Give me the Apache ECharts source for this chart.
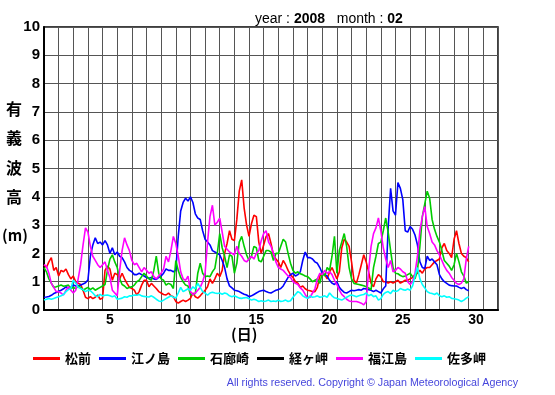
<!DOCTYPE html>
<html lang="ja">
<head>
    <meta charset="UTF-8">
    <title>有義波高 2008-02</title>
    <script src="https://cdn.jsdelivr.net/npm/echarts@6/dist/echarts.min.js"></script>
    <style>
        body{ margin:0; background-color:#ffffff }
        #main{ width:555px; height:395px }
    </style>
</head>
<body>
<div id="main"></div>
<script type="text/javascript">
    // 4時間ごとの値 (1日6点), 2/1 0時 から 2/29 24時 まで
    var days = [];
    for (var d = 1; d <= 31; d++) { days.push(String(d)); }
    var stations = ['松前', '江ノ島', '石廊崎', '経ヶ岬', '福江島', '佐多岬'];
    var colors = ['#ff0000', '#0000ff', '#00cc00', '#000000', '#ff00ff', '#00ffff'];

    var matsumae = [
        1.6, 1.5, 1.7, 1.85, 1.4, 1.5,
        1.2, 1.4, 1.35, 1.45, 1.25, 1.1,
        1.2, 1.0, 0.95, 0.9, 0.7, 0.45,
        0.4, 0.47, 0.4, 0.45, 0.53, 0.38,
        0.42, 1.4, 1.55, 1.45, 1.05, 1.3,
        1.25, 1.1, 1.3, 1.1, 0.94, 0.8,
        0.76, 0.7, 0.53, 0.65, 0.88, 1.05,
        1.05, 0.82, 0.94, 0.85, 0.76, 0.65,
        0.6, 0.55, 0.53, 0.6, 0.5, 0.47,
        0.3, 0.24, 0.3, 0.35, 0.3, 0.35,
        0.41, 0.6, 0.47, 0.42, 0.5, 0.6,
        0.7, 0.82, 1.1, 0.94, 1.1, 1.3,
        1.18, 1.4, 2.0, 2.35, 2.8, 2.5,
        2.45, 3.2, 4.2, 4.6, 3.6, 3.0,
        2.6, 3.05, 3.35, 3.3, 2.4, 2.0,
        2.3, 2.6, 2.7, 2.35, 1.95, 1.8,
        1.7, 1.5, 1.75, 1.6, 1.4, 1.25,
        1.15, 1.0, 0.95, 0.8, 0.85, 0.75,
        0.7, 0.68, 0.65, 0.65, 0.8, 1.2,
        1.3, 1.25, 1.1, 1.35, 1.5, 1.3,
        1.1, 1.35, 2.2, 2.5, 2.4, 2.25,
        1.7, 1.05, 0.95, 1.25, 1.6, 1.95,
        1.7, 1.35, 0.94, 0.82, 1.1, 1.25,
        1.18, 1.0, 1.0, 0.95, 1.0, 0.95,
        1.0, 1.05, 0.95, 1.0, 1.05, 1.05,
        1.1, 1.15, 1.25, 1.3, 1.4, 1.3,
        1.45, 1.5, 1.5, 1.6, 1.7, 1.75,
        1.8, 2.2, 2.35, 2.1, 2.0, 1.85,
        2.5, 2.8, 2.35, 2.0, 1.9, 1.85,
        1.7
    ];
    var enoshima = [
        0.45, 0.46, 0.48, 0.52, 0.58, 0.62,
        0.66, 0.7, 0.75, 0.82, 0.78, 0.8,
        0.88, 0.85, 0.86, 0.88, 0.92, 0.96,
        1.06, 1.9, 2.3, 2.55, 2.35, 2.4,
        2.3, 2.45, 2.3, 2.0, 2.2, 1.95,
        2.05, 1.9, 1.85, 1.7, 1.5, 1.4,
        1.35, 1.25, 1.25, 1.3, 1.25, 1.2,
        1.15, 1.12, 1.15, 1.1, 1.08, 1.15,
        1.2, 1.3, 1.45, 1.4, 1.4, 1.35,
        1.4, 2.6, 3.5, 3.8, 3.95, 3.85,
        4.0, 3.8, 3.4, 3.25, 3.2, 2.8,
        2.5, 2.4, 2.3, 2.1, 2.05, 2.0,
        1.95, 1.75, 1.5, 1.1, 0.85, 0.78,
        0.7, 0.68, 0.65, 0.6, 0.56, 0.53,
        0.47, 0.5, 0.55, 0.6, 0.65, 0.68,
        0.7, 0.65, 0.62, 0.6, 0.65, 0.7,
        0.72, 0.76, 0.85, 1.0, 1.15, 1.25,
        1.3, 1.2, 1.25, 1.35, 1.75, 2.05,
        1.85, 1.85, 1.8, 1.7, 1.65, 1.5,
        1.3, 1.25, 1.2, 1.05, 0.95, 0.9,
        1.0, 0.8, 0.7, 0.62, 0.6, 0.65,
        0.7, 0.68, 0.7, 0.72, 0.7, 0.76,
        0.74, 0.72, 0.7, 0.65, 0.7, 0.65,
        0.6, 0.75, 0.85, 2.9, 4.3, 3.5,
        3.35, 4.5, 4.3, 3.9, 2.8, 2.75,
        2.95, 2.85, 2.65, 2.3, 1.7, 1.5,
        1.47, 1.9, 1.75, 1.8, 1.7, 1.6,
        1.25, 1.1, 1.0, 0.94, 0.88, 0.86,
        0.85, 0.85, 0.8, 0.76, 0.8, 0.72,
        0.68
    ];
    var irozaki = [
        1.5, 1.35, 1.1, 0.95, 0.8, 0.82,
        0.85, 0.88, 0.84, 0.86, 0.88, 0.75,
        0.8, 0.75, 0.85, 0.8, 0.7, 0.75,
        0.8, 0.72, 0.78, 0.7, 0.75, 0.8,
        0.85, 0.9, 1.4, 1.8, 1.95, 1.7,
        1.5, 1.1, 0.9, 0.85, 0.76, 0.8,
        0.82, 0.88, 1.0, 1.05, 1.18, 1.3,
        1.2, 1.1, 1.05, 1.4, 1.9, 1.3,
        1.1, 1.05, 0.88, 0.94, 0.9, 0.76,
        1.75, 1.4, 1.15, 1.0, 0.88, 0.85,
        0.55, 0.55, 0.58, 1.3, 1.65, 1.3,
        1.18, 1.2, 1.18, 1.35, 1.47, 2.0,
        2.7, 2.2, 1.9, 1.5, 1.95, 1.9,
        1.3, 1.65, 2.4, 2.6, 2.25, 1.95,
        1.75, 1.9, 2.25, 2.2, 1.75, 1.7,
        1.9, 2.1, 2.1, 2.05, 1.75, 2.0,
        2.0, 2.25, 2.5, 2.4, 2.0, 1.65,
        1.4, 1.3, 1.35, 1.28, 1.25, 1.2,
        1.18, 1.1, 1.0, 1.05, 1.1, 0.94,
        1.3, 1.2, 1.5, 1.4, 1.9, 2.6,
        1.3, 2.1, 2.4, 2.7, 2.25, 1.5,
        1.1, 0.94, 0.92, 0.9, 0.88, 0.86,
        0.82, 0.78, 0.72, 1.5, 1.9, 2.35,
        2.4, 2.8, 3.25, 2.75, 2.1, 1.5,
        1.3, 1.28, 1.22, 1.18, 1.2, 1.25,
        1.3, 1.18, 1.1, 1.4, 2.25, 3.3,
        3.75, 4.2, 3.95, 3.2, 2.85, 2.6,
        2.4, 2.1, 1.75, 1.65, 1.55, 1.4,
        1.6, 2.0, 1.7, 1.35, 1.2, 0.95,
        1.0
    ];
    var kyogamisaki = [];
    var fukuejima = [
        1.6, 1.55, 1.3, 0.94, 0.8, 0.65,
        0.65, 0.6, 0.53, 0.7, 0.82, 0.7,
        0.6, 0.7, 1.1, 1.6, 2.3, 2.9,
        2.75, 2.25, 1.9, 1.75, 1.6, 1.5,
        1.6, 1.7, 1.4, 1.15, 0.7, 0.6,
        0.5, 1.4, 2.1, 2.55, 2.3, 2.1,
        1.75, 1.6, 1.65, 1.5, 1.35, 1.5,
        1.4, 1.3, 1.35, 1.18, 1.1, 1.2,
        1.3, 1.45, 1.9, 1.7, 2.1, 2.6,
        2.35, 1.9, 1.35, 1.1, 1.05, 1.2,
        0.65, 0.55, 0.6, 0.7, 0.8, 1.0,
        1.3, 2.4, 3.3, 3.7, 3.0, 3.1,
        3.25, 2.75, 2.25, 2.15, 2.05, 2.0,
        1.95, 2.25, 2.0, 1.9, 1.75, 1.7,
        1.8, 1.9, 1.8, 2.0, 2.1, 2.45,
        2.7, 2.8, 2.4, 2.25, 2.0, 1.7,
        1.5, 1.45, 1.4, 1.3, 1.2, 1.15,
        1.0, 0.94, 0.9, 0.78, 0.7, 0.55,
        0.42, 0.45, 0.6, 0.75, 1.1, 1.3,
        1.25, 1.4, 1.3, 1.35, 1.25, 1.05,
        0.9, 0.7, 0.55, 0.47, 0.38, 0.32,
        0.3, 0.3, 0.3, 0.27, 0.24, 0.18,
        0.3, 1.4, 2.25, 2.7, 2.9, 3.25,
        2.8, 2.2, 1.8, 1.5, 1.75, 1.35,
        1.4, 1.5, 1.45, 1.35, 1.3, 1.0,
        0.9, 1.0, 1.3, 1.9, 2.8, 3.3,
        3.65, 2.95, 2.7, 2.4, 2.3, 2.1,
        1.95, 1.75, 1.55, 1.4, 1.3, 1.15,
        1.05, 0.94, 0.9, 0.95, 1.1, 1.8,
        2.25
    ];
    var satamisaki = [
        0.35, 0.38, 0.41, 0.38, 0.41, 0.44,
        0.47, 0.5, 0.55, 0.65, 0.72, 0.76,
        1.05, 0.95, 0.8, 0.76, 0.72, 0.65,
        0.7, 0.68, 0.6, 0.5, 0.47, 0.55,
        0.5, 0.52, 0.53, 0.5, 0.47, 0.5,
        0.38, 0.4, 0.42, 0.47, 0.45, 0.5,
        0.5, 0.53, 0.52, 0.55, 0.5, 0.48,
        0.47, 0.46, 0.5, 0.45, 0.38, 0.32,
        0.3, 0.35, 0.4, 0.45, 0.5, 0.45,
        0.42, 0.6, 0.8, 0.65, 0.7, 0.75,
        0.7, 0.82, 0.75, 0.94, 0.8, 0.65,
        0.6, 0.52, 0.6, 0.63, 0.6, 0.58,
        0.6, 0.56, 0.6, 0.57, 0.5, 0.47,
        0.5, 0.46, 0.42, 0.41, 0.43, 0.44,
        0.4, 0.35, 0.38, 0.35, 0.3, 0.33,
        0.3, 0.32, 0.35, 0.3, 0.32, 0.3,
        0.35, 0.3, 0.32, 0.35, 0.3, 0.33,
        0.45, 0.55, 0.65, 0.6, 0.5, 0.45,
        0.41, 0.5, 0.45, 0.47, 0.5, 0.45,
        0.47, 0.5, 0.45, 0.6, 0.5, 0.43,
        0.41, 0.38, 0.35, 0.4, 0.45, 0.5,
        0.53, 0.5, 0.47, 0.5, 0.53, 0.55,
        0.6, 0.5, 0.55, 0.47, 0.5, 0.35,
        0.4, 0.55, 0.62, 0.65, 0.58, 0.7,
        0.65, 0.68, 0.76, 0.72, 0.7, 0.74,
        0.7, 0.85, 1.2, 1.5, 1.1, 0.9,
        0.78, 0.65, 0.6, 0.58, 0.55, 0.6,
        0.5, 0.47, 0.5, 0.45, 0.47, 0.41,
        0.4, 0.38, 0.35, 0.3, 0.35, 0.42,
        0.47
    ];
    var yTicks = [0, 1, 2, 3, 4, 5, 6, 7, 8, 9, 10];

    var waves = [matsumae, enoshima, irozaki, kyogamisaki, fukuejima, satamisaki];

    function toPoints(arr) {
        var pts = [];
        for (var i = 0; i < arr.length; i++) {
            pts.push([i / 6, arr[i]]);
        }
        return pts;
    }

    var myChart = echarts.init(document.getElementById('main'));

    var series = [];
    for (var s = 0; s < stations.length; s++) {
        series.push({
            name: stations[s],
            type: 'line',
            xAxisIndex: 1,
            showSymbol: false,
            symbol: 'none',
            lineStyle: { width: 1.6, color: colors[s] },
            itemStyle: { color: colors[s] },
            data: toPoints(waves[s])
        });
    }

    var baseFont = 'Liberation Sans';
    var jpFont = 'Noto Sans CJK JP';

    var option = {
        backgroundColor: '#ffffff',
        animation: false,
        title: {
            left: 250,
            top: 7,
            text: '{n|year : }{b|2008}{n|   month : }{b|02}',
            textStyle: {
                fontWeight: 'normal',
                rich: {
                    n: { fontFamily: baseFont, fontSize: 14, fontWeight: 'normal', color: '#000' },
                    b: { fontFamily: baseFont, fontSize: 14, fontWeight: 'bold', color: '#000' }
                }
            }
        },
        legend: {
            left: 28,
            top: 347,
            icon: 'rect',
            itemWidth: 27,
            itemHeight: 3,
            itemGap: 8,
            data: stations,
            textStyle: {
                fontFamily: jpFont,
                fontWeight: 'bold',
                fontSize: 13,
                color: '#000',
                width: 42
            }
        },
        grid: {
            left: 44,
            right: 57,
            top: 27,
            bottom: 85,
            show: true,
            borderColor: '#000',
            borderWidth: 1.5,
            backgroundColor: '#ffffff'
        },
        xAxis: [
            {
                type: 'category',
                data: days,
                boundaryGap: true,
                axisLine: { show: true, lineStyle: { color: '#000', width: 2 } },
                axisTick: { show: false },
                splitLine: { show: true, interval: 0, lineStyle: { color: '#555', width: 1 } },
                axisLabel: {
                    interval: function (index) { return (index + 1) % 5 === 0; },
                    fontFamily: baseFont,
                    fontWeight: 'bold',
                    fontSize: 14,
                    color: '#000',
                    margin: 3
                }
            },
            {
                type: 'value',
                min: 0,
                max: 31,
                show: false
            }
        ],
        yAxis: {
            type: 'value',
            min: 0,
            max: 10,
            interval: 1,
            axisLine: { show: true, lineStyle: { color: '#000', width: 2 } },
            axisTick: { show: false },
            splitLine: { show: true, lineStyle: { color: '#555', width: 1 } },
            axisLabel: {
                fontFamily: baseFont,
                fontWeight: 'bold',
                fontSize: 15,
                color: '#000',
                margin: 4,
                formatter: function (v) { return yTicks.indexOf(v) >= 0 ? String(v) : ''; }
            }
        },
        graphic: [
            {
                type: 'text', left: 6, top: 101,
                style: { text: '有', font: 'bold 16px "Noto Sans CJK JP"', fill: '#000' }
            },
            {
                type: 'text', left: 6, top: 130,
                style: { text: '義', font: 'bold 16px "Noto Sans CJK JP"', fill: '#000' }
            },
            {
                type: 'text', left: 6, top: 160,
                style: { text: '波', font: 'bold 16px "Noto Sans CJK JP"', fill: '#000' }
            },
            {
                type: 'text', left: 6, top: 189,
                style: { text: '高', font: 'bold 16px "Noto Sans CJK JP"', fill: '#000' }
            },
            {
                type: 'text', left: 2, top: 228,
                style: { text: '(m)', font: 'bold 15px "Noto Sans CJK JP"', fill: '#000' }
            },
            {
                type: 'text', left: 231, top: 327,
                style: { text: '(日)', font: 'bold 15px "Noto Sans CJK JP"', fill: '#000' }
            },
            {
                type: 'text', right: 37, top: 378,
                style: {
                    text: 'All rights reserved. Copyright © Japan Meteorological Agency',
                    font: '10.7px "Liberation Sans"',
                    fill: '#4646dc'
                }
            }
        ],
        series: series
    };

    myChart.setOption(option);
</script>
</body>
</html>
